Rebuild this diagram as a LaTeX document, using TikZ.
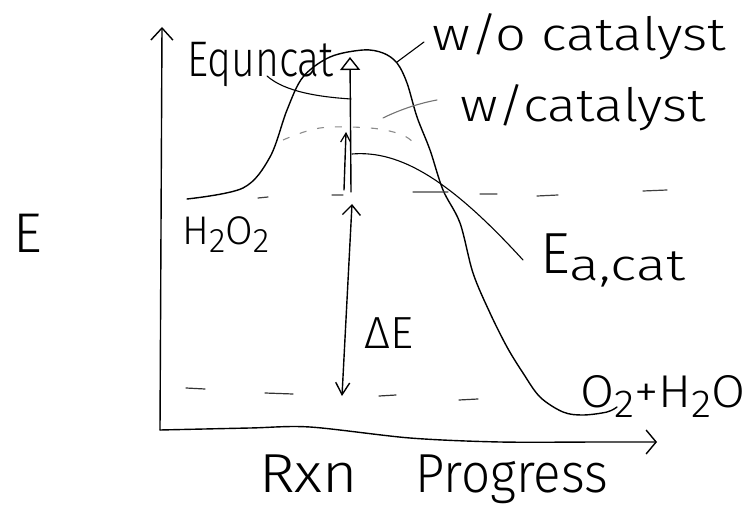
\documentclass[tikz,border=0pt]{standalone}
\usepackage{fontspec}
\usepackage{graphicx}
\setmainfont{Fira Sans Light}
\usetikzlibrary{arrows.meta}
\newcommand\lowsub[1]{\raisebox{-0.22em}{\scalebox{0.85}{#1}}}
\newcommand\fsz[1]{\fontsize{#1}{#1}\selectfont}
\newcommand\wide[2]{\scalebox{#1}[1]{#2}}
\begin{document}
\begin{tikzpicture}[x=1pt,y=-1pt,
  lbl/.style={inner sep=0pt, anchor=base west},
  ink/.style={line width=1.4pt, line cap=round, line join=round},
  ptr/.style={line width=1.1pt, line cap=round},
  ptrgray/.style={line width=1.1pt, line cap=round, draw=black!55},
  barb/.style={-{Straight Barb[length=12pt,width=22pt,line width=1.4pt]}},
]
\useasboundingbox (0,0) rectangle (746,521);

% axes
\coordinate (O) at (160,430);
\coordinate (ytop) at (162,27);
\coordinate (xend) at (657,442);
\draw[ink,barb] (O) -- (ytop);
\draw[ink,-{Straight Barb[length=10pt,width=24pt,line width=1.4pt]}]
  plot[smooth,tension=0.5] coordinates {(160,430) (250,428) (310,427) (410,438) (500,442) (600,442) (657,442)};

% energy curve without catalyst
\draw[ink] plot[smooth,tension=0.55] coordinates {
 (187,199) (243,188) (270,157) (287,110) (303,77) (330,57) (363,50) (383,53)
 (397,63) (407,83) (417,117) (430,150) (443,190) (460,223) (473,273) (490,313)
 (507,347) (523,373) (540,397) (563,412) (583,415) (607,412) (617,407)};

% catalysed curve (dashed, grey)
\draw[line width=1.1pt, draw=black!45, dash pattern=on 7pt off 11pt]
  plot[smooth,tension=0.6] coordinates {(283,140) (320,128) (370,128) (400,134) (413,142)};

% dashed energy levels
\draw[line width=1.2pt, line cap=round, draw=black!75]
  (258,198) -- (268,197)  (332,195) -- (343,195)  (413,192) -- (448,192)
  (480,194) -- (497,194)  (537,196) -- (558,195)  (643,191) -- (667,190);
\draw[line width=1.2pt, line cap=round, draw=black!80]
  (186,388) -- (205,389)  (265,393) -- (293,394)  (379,396) -- (396,395)
  (459,400) -- (478,399);

% activation energy arrows
\coordinate (peak) at (350,57);
\coordinate (rlev) at (351,192);
\coordinate (catpeak) at (346,132);
\coordinate (catbase) at (344,190);
\draw[ink,-{Triangle[open,length=13pt,width=20pt,line width=1.4pt]}] (rlev) -- (peak);
\draw[ink,-{Straight Barb[length=9pt,width=10pt,line width=1.2pt]}] (catbase) -- (catpeak);

% Delta E arrow
\coordinate (dEtop) at (352,204);
\coordinate (dEbot) at (342,396);
\draw[ink,{Straight Barb[length=10pt,width=18pt,line width=1.4pt]}-{Straight Barb[length=12pt,width=14pt,line width=1.4pt]}] (dEtop) -- (dEbot);

% labels
\node[lbl] (E) at (13,252) {\fsz{56}E};
\node[lbl] (h2o2) at (182,244) {\fsz{40}H\lowsub{2}O\lowsub{2}};
\node[lbl] (dE) at (364,348) {\fsz{45}ΔE};
\node[lbl] (equncat) at (187,77) {\fsz{50}\wide{0.82}{Equncat}};
\node[lbl] (wo) at (432,51) {\fsz{46}\wide{1.18}{w/o catalyst}};
\node[lbl] (wc) at (460,122) {\fsz{46}\wide{1.17}{w/catalyst}};
\node[lbl] (eacat) at (540,273) {\fsz{58}E\raisebox{-7pt}{\fsz{44}\wide{1.27}{a,cat}}};
\node[lbl] (prod) at (580,407) {\fsz{46}\wide{1.07}{O\lowsub{2}+H\lowsub{2}O}};
\node[lbl] (rxn) at (259,492) {\fsz{55}\wide{1.1}{Rxn}\hspace{1.05em}\wide{0.93}{Progress}};

% pointers
\coordinate (equ-p) at (267,76);
\coordinate (wo-p) at (424,42);
\coordinate (wo-c) at (397,62);
\coordinate (wc-p) at (437,100);
\coordinate (wc-c) at (383,118);
\coordinate (ea-p) at (523,260);
\coordinate (ea-c) at (352,154);
\draw[ptr] (equ-p) .. controls (285,92) and (320,97) .. (rlev |- 0,99);
\draw[ptr] (wo-p) -- (wo-c);
\draw[ptrgray] (wc-p) .. controls (415,104) and (395,112) .. (wc-c);
\draw[ptr] (ea-c) .. controls (400,150) and (450,180) .. (ea-p);
\end{tikzpicture}
\end{document}
